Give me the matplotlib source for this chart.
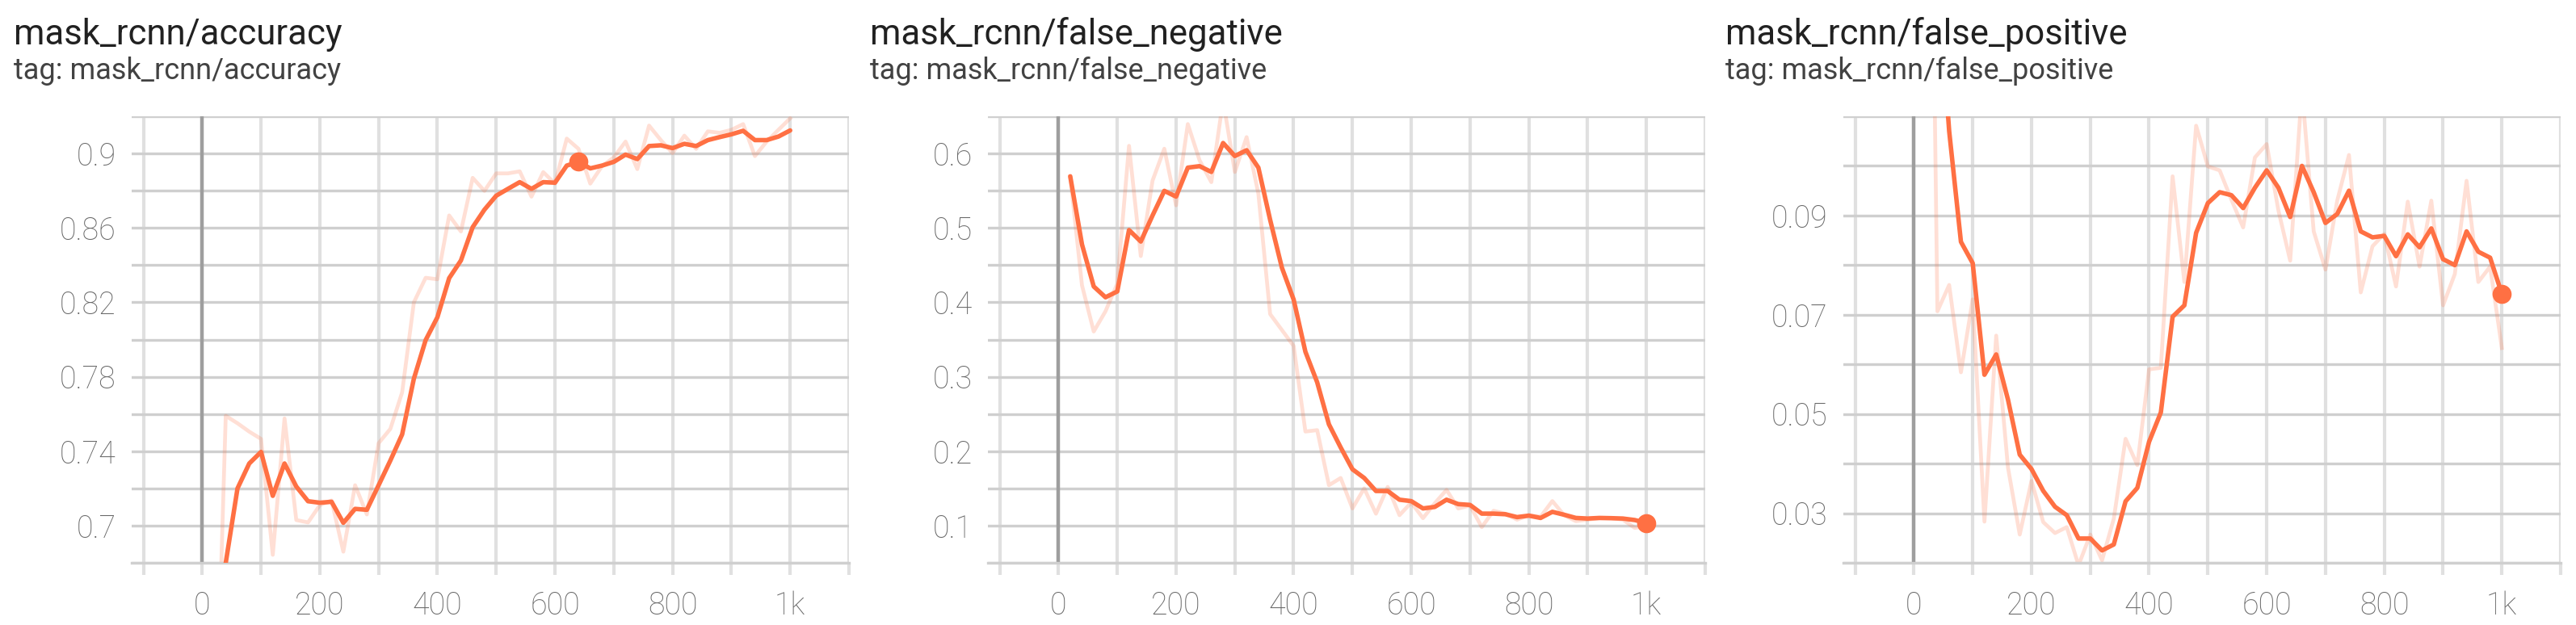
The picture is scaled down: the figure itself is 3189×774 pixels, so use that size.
import numpy as np
import matplotlib
matplotlib.use("Agg")
import matplotlib.pyplot as plt
from matplotlib.ticker import MultipleLocator, FuncFormatter

plt.rcParams['font.family'] = ['Roboto', 'DejaVu Sans']

# training steps (one point every 20 steps)
steps = list(range(20, 1001, 20))

titles = ['mask_rcnn/accuracy', 'mask_rcnn/false_negative', 'mask_rcnn/false_positive']

# raw (faint) and smoothed (bold) values
acc_raw = [0.548, 0.759, 0.755, 0.7505, 0.7466, 0.6843, 0.7576, 0.703, 0.7017, 0.711,
           0.7135, 0.686, 0.7217, 0.706, 0.7443, 0.752, 0.7716, 0.82, 0.8332, 0.8324,
           0.8667, 0.8581, 0.8869, 0.8799, 0.8893, 0.8893, 0.8904, 0.8768, 0.890, 0.8838,
           0.908, 0.9025, 0.8838, 0.8932, 0.8979, 0.9064, 0.8916, 0.915, 0.9072, 0.9002,
           0.9096, 0.9025, 0.9119, 0.9111, 0.9127, 0.9158, 0.8986, 0.9064, 0.9127, 0.9189]
acc_smooth = [0.548, 0.680, 0.720, 0.7334, 0.7396, 0.716, 0.7334, 0.721, 0.7131, 0.7123,
              0.7128, 0.7015, 0.709, 0.7085, 0.7217, 0.735, 0.749, 0.779, 0.7997, 0.812,
              0.833, 0.8425, 0.8604, 0.8698, 0.8773, 0.881, 0.8846, 0.881, 0.8846, 0.8843,
              0.8935, 0.8955, 0.892, 0.8935, 0.8955, 0.8994, 0.897, 0.904, 0.9044, 0.9029,
              0.9052, 0.904, 0.9072, 0.9088, 0.9103, 0.9122, 0.9072, 0.9072, 0.9091, 0.9124]

fn_raw = [0.5693, 0.4229, 0.3608, 0.388, 0.425, 0.6103, 0.4622, 0.5635, 0.6064, 0.5304,
          0.6395, 0.5908, 0.5615, 0.6715, 0.5752, 0.622, 0.546, 0.3842, 0.3628, 0.3414,
          0.2264, 0.2283, 0.1543, 0.164, 0.1231, 0.15, 0.116, 0.152, 0.114, 0.131,
          0.110, 0.130, 0.148, 0.123, 0.127, 0.098, 0.120, 0.116, 0.108, 0.114,
          0.112, 0.133, 0.114, 0.106, 0.108, 0.110, 0.110, 0.108, 0.097, 0.099]
fn_smooth = [0.5693, 0.4778, 0.4213, 0.4068, 0.4146, 0.4972, 0.4817, 0.5167, 0.5498, 0.5421,
             0.581, 0.583, 0.5752, 0.6141, 0.5966, 0.6044, 0.581, 0.5109, 0.4466, 0.4037,
             0.3336, 0.2926, 0.2361, 0.205, 0.1757, 0.164, 0.1465, 0.1465, 0.1348, 0.1329,
             0.1231, 0.1251, 0.1348, 0.1289, 0.1278, 0.1161, 0.1161, 0.1153, 0.1114, 0.1134,
             0.1103, 0.1185, 0.1146, 0.1103, 0.1095, 0.1103, 0.1100, 0.1095, 0.1075, 0.1036]

fp_raw = [0.254, 0.0707, 0.076, 0.0584, 0.0731, 0.0283, 0.0658, 0.0392, 0.0257, 0.0365,
          0.0282, 0.026, 0.0272, 0.0195, 0.0257, 0.0205, 0.0289, 0.045, 0.0397, 0.059,
          0.0593, 0.0979, 0.0766, 0.1081, 0.0999, 0.0991, 0.0932, 0.0876, 0.1017, 0.1044,
          0.091, 0.0809, 0.1155, 0.0868, 0.0791, 0.093, 0.1022, 0.0745, 0.0838, 0.0863,
          0.0757, 0.0928, 0.0797, 0.093, 0.0719, 0.0782, 0.097, 0.0766, 0.0797, 0.0633]
fp_smooth = [0.254, 0.1394, 0.107, 0.0847, 0.0804, 0.0579, 0.062, 0.0529, 0.0418, 0.0389,
             0.0345, 0.0313, 0.0296, 0.0249, 0.0249, 0.0225, 0.0237, 0.0324, 0.0351, 0.0444,
             0.0503, 0.0696, 0.0719, 0.0865, 0.0925, 0.0947, 0.0941, 0.0915, 0.0956, 0.0991,
             0.0956, 0.0897, 0.100, 0.0947, 0.0885, 0.0903, 0.095, 0.0868, 0.0856, 0.0859,
             0.0818, 0.0862, 0.0836, 0.0874, 0.0812, 0.080, 0.0868, 0.0827, 0.0815, 0.0742]

raw_series = [acc_raw, fn_raw, fp_raw]
smooth_series = [acc_smooth, fn_smooth, fp_smooth]
hover_steps = [640, 1000, 1000]

y_limits = [(0.68, 0.92), (0.05, 0.65), (0.02, 0.11)]
y_ticks = [[0.7, 0.74, 0.78, 0.82, 0.86, 0.9],
           [0.1, 0.2, 0.3, 0.4, 0.5, 0.6],
           [0.03, 0.05, 0.07, 0.09]]
y_grid = [0.02, 0.05, 0.01]

orange = '#ff7043'

fig = plt.figure(figsize=(31.89, 7.74), dpi=100)
W, H = 3189, 774
lefts = [163, 1223, 2282]

def fmt_x(v, pos):
    if v == 1000:
        return '1k'
    return '%d' % v

for i in range(3):
    ax = fig.add_axes([lefts[i] / W, 77 / H, 888 / W, 553 / H])

    ax.axvline(0, color='#9e9e9e', lw=3.2, zorder=1)
    ax.plot(steps, raw_series[i], color=orange, alpha=0.22, lw=3.4, zorder=2)
    ax.plot(steps, smooth_series[i], color=orange, lw=4.0, zorder=3,
            solid_joinstyle='round', solid_capstyle='round')
    k = steps.index(hover_steps[i])
    ax.plot(hover_steps[i], smooth_series[i][k], 'o', color=orange, ms=16, zorder=4)

    ax.set_xlim(-120, 1100)
    ax.set_ylim(*y_limits[i])

    ax.xaxis.set_major_locator(MultipleLocator(200))
    ax.xaxis.set_minor_locator(MultipleLocator(100))
    ax.xaxis.set_major_formatter(FuncFormatter(fmt_x))
    ax.set_yticks(y_ticks[i])
    ax.set_yticklabels(['%g' % v for v in y_ticks[i]])
    ax.yaxis.set_minor_locator(MultipleLocator(y_grid[i]))

    ax.set_axisbelow(True)
    ax.grid(which='both', axis='x', color='#e0e0e0', lw=3.0)
    ax.grid(which='both', axis='y', color='#cfcfcf', lw=2.4)

    ax.tick_params(axis='x', which='both', length=11, width=3.0, color='#e0e0e0',
                   pad=14, labelsize=27, labelcolor='#666666')
    ax.tick_params(axis='y', which='both', length=0, pad=14,
                   labelsize=27, labelcolor='#666666')
    for lab in ax.get_xticklabels() + ax.get_yticklabels():
        lab.set_fontweight('light')

    for side in ['top', 'right', 'left']:
        ax.spines[side].set_visible(False)
    ax.spines['bottom'].set_color('#cfcfcf')
    ax.spines['bottom'].set_linewidth(2.4)

    fig.text((lefts[i] - 146) / W, 1 - 55 / H, titles[i], fontsize=31.5,
             color='#212121', va='baseline')
    fig.text((lefts[i] - 146) / W, 1 - 98 / H, 'tag: ' + titles[i], fontsize=26,
             color='#424242', va='baseline')

fig.savefig('out.png', dpi=100, facecolor='white')
